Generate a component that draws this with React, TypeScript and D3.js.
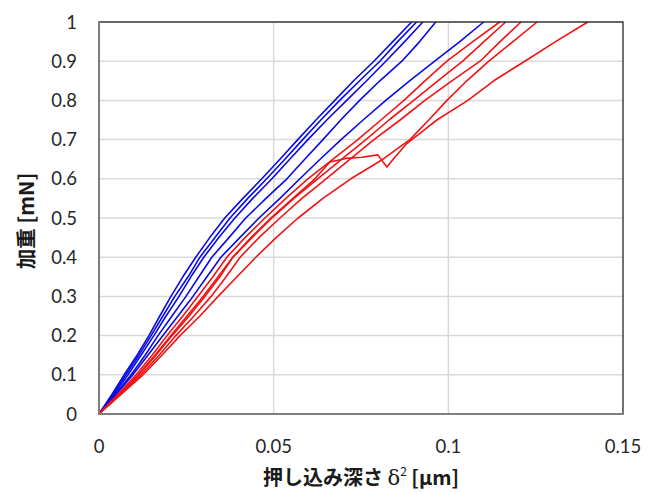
import { useEffect, useRef } from 'react';
import * as d3 from 'd3';

const loadSteps = [0, 0.05, 0.1, 0.15, 0.2, 0.25, 0.3, 0.35, 0.4, 0.45, 0.5,
  0.55, 0.6, 0.65, 0.7, 0.75, 0.8, 0.85, 0.9, 0.95, 1.0];

// blue specimens: depth δ² [µm] at each load step
const blue1 = [0, 0.0037, 0.0072, 0.0109, 0.0143, 0.0174, 0.0206, 0.0240, 0.0277, 0.0317, 0.0360,
  0.0412, 0.0466, 0.0518, 0.0569, 0.0621, 0.0675, 0.0729, 0.0787, 0.0841, 0.0895];
const blue2 = [0, 0.0040, 0.0077, 0.0114, 0.0149, 0.0183, 0.0217, 0.0255, 0.0289, 0.0332, 0.0375,
  0.0426, 0.0480, 0.0532, 0.0583, 0.0635, 0.0689, 0.0746, 0.0804, 0.0855, 0.0909];
const blue3 = [0, 0.0043, 0.0083, 0.0120, 0.0157, 0.0192, 0.0229, 0.0263, 0.0300, 0.0343, 0.0389,
  0.0440, 0.0495, 0.0546, 0.0598, 0.0652, 0.0709, 0.0766, 0.0821, 0.0875, 0.0927];
const blue4 = [0, 0.0046, 0.0092, 0.0132, 0.0169, 0.0209, 0.0249, 0.0286, 0.0323, 0.0372, 0.0420,
  0.0478, 0.0538, 0.0589, 0.0641, 0.0692, 0.0746, 0.0804, 0.0867, 0.0918, 0.0964];
const blue5 = [0, 0.0049, 0.0097, 0.0140, 0.0183, 0.0226, 0.0269, 0.0309, 0.0349, 0.0403, 0.0458,
  0.0518, 0.0575, 0.0633, 0.0693, 0.0756, 0.0821, 0.0889, 0.0961, 0.1033, 0.1101];

// red specimens
const red1 = [0, 0.0054, 0.0106, 0.0152, 0.0195, 0.0240, 0.0283, 0.0326, 0.0366, 0.0418, 0.0475,
  0.0535, 0.0598, 0.0670, 0.0741, 0.0807, 0.0873, 0.0933, 0.0996, 0.1070, 0.1147];
const red2 = [0, 0.0057, 0.0114, 0.0163, 0.0209, 0.0258, 0.0303, 0.0346, 0.0383, 0.0438, 0.0495,
  0.0558, 0.0626, 0.0695, 0.0764, 0.0830, 0.0901, 0.0970, 0.1041, 0.1102, 0.1164];
const red3 = [0, 0.0060, 0.0120, 0.0172, 0.0220, 0.0272, 0.0321, 0.0364, 0.0404, 0.0458, 0.0518,
  0.0581, 0.0650, 0.0719, 0.0787, 0.0862, 0.0933, 0.1010, 0.1091, 0.1148, 0.1208];
const red4 = [0, 0.0063, 0.0126, 0.0180, 0.0232, 0.0289, 0.0341, 0.0395, 0.0449, 0.0507, 0.0570,
  0.0641, 0.0721, 0.0813, 0.0890, 0.0944, 0.0996, 0.1053, 0.1116, 0.1185, 0.1254];

// red specimen with the pop-in near 0.08
const red5Depth = [0, 0.0057, 0.0112, 0.0160, 0.0206, 0.0252, 0.0298, 0.0341, 0.0383, 0.0435, 0.0492,
  0.0555, 0.0618, 0.0661, 0.0707, 0.0752, 0.0798, 0.0824, 0.0847, 0.0881, 0.0924, 0.0967,
  0.1056, 0.1130, 0.1219, 0.1307, 0.1399];
const red5Load = [0, 0.05, 0.1, 0.15, 0.2, 0.25, 0.3, 0.35, 0.4, 0.45, 0.5,
  0.55, 0.6, 0.643, 0.652, 0.655, 0.661, 0.630, 0.655, 0.69, 0.72, 0.75,
  0.8, 0.85, 0.9, 0.95, 1.0];

const xTicks = [0, 0.05, 0.1, 0.15];
const yTicks = [0, 0.1, 0.2, 0.3, 0.4, 0.5, 0.6, 0.7, 0.8, 0.9, 1];

const BLUE = '#0a0ae6';
const RED = '#f01414';

const App = () => {
  const ref = useRef(null);

  useEffect(() => {
    const width = 659;
    const height = 493;
    const m = { left: 99, right: 36, top: 22, bottom: 79 };

    const x = d3.scaleLinear().domain([0, 0.15]).range([m.left, width - m.right]);
    const y = d3.scaleLinear().domain([0, 1]).range([height - m.bottom, m.top]);

    const svg = d3.select(ref.current);
    svg.selectAll('*').remove();
    svg.attr('width', width).attr('height', height);

    svg.append('rect').attr('width', width).attr('height', height).attr('fill', '#fff');

    // grid
    svg.append('g')
      .selectAll('line')
      .data(yTicks.slice(1))
      .enter().append('line')
      .attr('x1', x(0)).attr('x2', x(0.15))
      .attr('y1', (d) => y(d)).attr('y2', (d) => y(d))
      .attr('stroke', '#d9d9d9').attr('stroke-width', 1.5);
    svg.append('g')
      .selectAll('line')
      .data(xTicks.slice(1, -1))
      .enter().append('line')
      .attr('x1', (d) => x(d)).attr('x2', (d) => x(d))
      .attr('y1', y(0)).attr('y2', y(1))
      .attr('stroke', '#d9d9d9').attr('stroke-width', 1.5);

    const line = d3.line().x((d) => x(d[0])).y((d) => y(d[1]));
    const curves = [
      { xs: blue1, ys: loadSteps, c: BLUE },
      { xs: blue2, ys: loadSteps, c: BLUE },
      { xs: blue3, ys: loadSteps, c: BLUE },
      { xs: blue4, ys: loadSteps, c: BLUE },
      { xs: blue5, ys: loadSteps, c: BLUE },
      { xs: red1, ys: loadSteps, c: RED },
      { xs: red2, ys: loadSteps, c: RED },
      { xs: red3, ys: loadSteps, c: RED },
      { xs: red4, ys: loadSteps, c: RED },
      { xs: red5Depth, ys: red5Load, c: RED },
    ];
    svg.append('g')
      .selectAll('path')
      .data(curves)
      .enter().append('path')
      .attr('d', (d) => line(d.xs.map((v, i) => [v, d.ys[i]])))
      .attr('fill', 'none')
      .attr('stroke', (d) => d.c)
      .attr('stroke-width', 1.6)
      .attr('stroke-linejoin', 'round');

    // frame
    svg.append('rect')
      .attr('x', x(0)).attr('y', y(1))
      .attr('width', x(0.15) - x(0)).attr('height', y(0) - y(1))
      .attr('fill', 'none').attr('stroke', '#262626').attr('stroke-width', 1.3);
    svg.append('path')
      .attr('d', `M${x(0)},${y(1)}V${y(0)}H${x(0.15)}`)
      .attr('fill', 'none').attr('stroke', '#7f7f7f').attr('stroke-width', 1.8);

    const font = 'Lato, "Open Sans", sans-serif';
    svg.append('g')
      .selectAll('text')
      .data(yTicks)
      .enter().append('text')
      .attr('x', 77)
      .attr('y', (d) => y(d))
      .attr('dy', '0.36em')
      .attr('text-anchor', 'end')
      .attr('font-family', font)
      .attr('font-size', 18.5)
      .attr('fill', '#262626')
      .text((d) => d3.format('~g')(d));
    svg.append('g')
      .selectAll('text')
      .data(xTicks)
      .enter().append('text')
      .attr('x', (d) => x(d))
      .attr('y', 453)
      .attr('text-anchor', 'middle')
      .attr('font-family', font)
      .attr('font-size', 18.5)
      .attr('fill', '#262626')
      .text((d) => d3.format('~g')(d));

    const cjk = '"Noto Sans CJK JP", sans-serif';
    const xt = svg.append('text')
      .attr('x', 361).attr('y', 485)
      .attr('text-anchor', 'middle')
      .attr('font-family', cjk).attr('font-weight', 'bold')
      .attr('font-size', 20).attr('fill', '#1a1a1a');
    xt.append('tspan').text('押し込み深さ ');
    xt.append('tspan').attr('font-family', '"DejaVu Serif", serif').attr('font-weight', 'normal')
      .attr('font-size', 21).text('δ');
    xt.append('tspan').attr('font-size', 12).attr('dy', -9).attr('font-weight', 'normal').text('2');
    xt.append('tspan').attr('dy', 9).text(' [µm]');

    svg.append('text')
      .attr('transform', `translate(34,${221}) rotate(-90)`)
      .attr('text-anchor', 'middle')
      .attr('font-family', cjk).attr('font-weight', 'bold')
      .attr('font-size', 20.5).attr('fill', '#1a1a1a')
      .text('加重 [mN]');
  }, []);

  return <svg ref={ref} style={{ position: 'absolute', left: 0, top: 0 }}></svg>;
};

export default App;
